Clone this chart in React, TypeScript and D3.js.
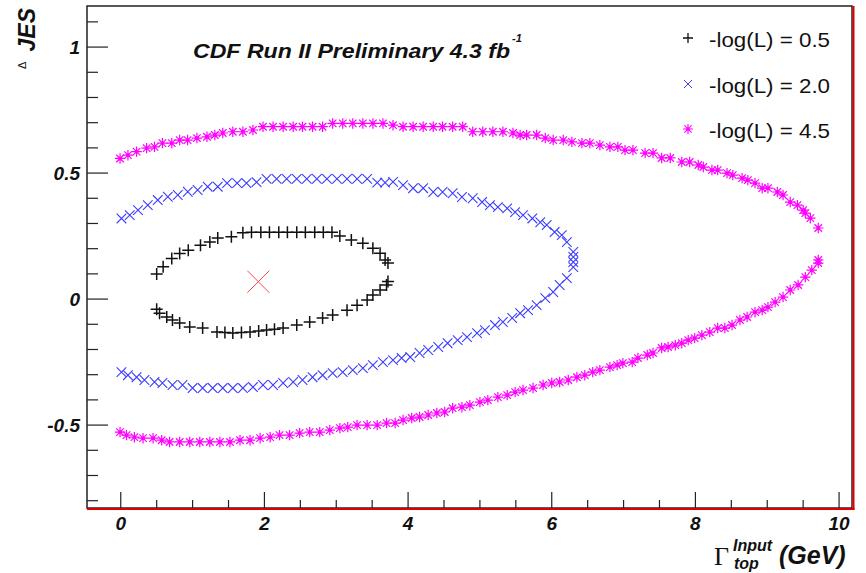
import React from 'react';
import * as d3 from 'd3';

const W = 866;
const H = 573;

// Axis domains and ticks
const X_DOMAIN: [number, number] = [-0.47, 10.18];
const Y_DOMAIN: [number, number] = [-0.829, 1.163];
const xMajorTicks = [0, 2, 4, 6, 8, 10];
const yMajorTicks = [-0.5, 0, 0.5, 1];
const yTickLabels = ['-0.5', '0', '0.5', '1'];
const xTickLabels = ['0', '2', '4', '6', '8', '10'];

const titleText = 'CDF Run II Preliminary 4.3 fb';
const legendLabels = ['-log(L) = 0.5', '-log(L) = 2.0', '-log(L) = 4.5'];

// Best fit point
const bestFit: [number, number] = [1.915, 0.069];

// -log(L) = 0.5 contour (black +)
const contour05: [number, number][] = [
  [0.50, 0.10], [0.59, 0.128], [0.71, 0.161], [0.82, 0.181], [0.94, 0.194], [1.11, 0.214],
  [1.24, 0.227], [1.35, 0.242], [1.54, 0.247], [1.70, 0.263], [1.82, 0.265], [1.95, 0.265],
  [2.07, 0.265], [2.20, 0.265], [2.32, 0.265], [2.45, 0.265], [2.57, 0.265], [2.70, 0.265],
  [2.82, 0.265], [2.94, 0.265], [3.05, 0.25], [3.21, 0.234], [3.37, 0.222], [3.51, 0.202],
  [3.61, 0.182], [3.68, 0.155], [3.72, 0.143],
  [3.72, 0.07], [3.70, 0.056], [3.61, 0.036], [3.51, 0.016], [3.43, -0.004], [3.29, -0.024],
  [3.15, -0.044], [2.95, -0.063], [2.81, -0.075], [2.63, -0.091], [2.45, -0.103], [2.26, -0.115],
  [2.14, -0.12], [2.03, -0.123], [1.92, -0.127], [1.80, -0.131], [1.68, -0.133], [1.56, -0.135],
  [1.45, -0.133], [1.34, -0.131], [1.14, -0.115], [0.96, -0.111], [0.82, -0.095], [0.72, -0.083],
  [0.64, -0.071], [0.54, -0.056], [0.50, -0.04],
];

// -log(L) = 2.0 contour (blue x)
const contour20: [number, number][] = [
  [0.01, 0.32], [0.125, 0.333], [0.24, 0.353], [0.376, 0.373], [0.515, 0.393], [0.655, 0.406],
  [0.794, 0.413], [0.933, 0.426], [1.07, 0.433], [1.21, 0.446], [1.35, 0.446], [1.48, 0.46],
  [1.62, 0.46], [1.75, 0.46], [1.89, 0.464], [2.03, 0.477], [2.17, 0.477], [2.31, 0.477],
  [2.45, 0.477], [2.59, 0.477], [2.73, 0.477], [2.87, 0.477], [3.01, 0.477], [3.15, 0.477],
  [3.29, 0.477], [3.43, 0.477], [3.57, 0.462], [3.68, 0.462], [3.79, 0.465], [3.93, 0.452],
  [4.07, 0.44], [4.21, 0.44], [4.35, 0.425], [4.48, 0.425], [4.62, 0.42], [4.75, 0.405],
  [4.90, 0.40], [5.03, 0.385], [5.14, 0.373], [5.25, 0.365], [5.38, 0.36], [5.49, 0.345],
  [5.60, 0.333], [5.73, 0.32], [5.84, 0.305], [5.93, 0.294], [6.04, 0.266], [6.14, 0.254],
  [6.21, 0.226], [6.30, 0.187], [6.30, 0.167], [6.30, 0.147], [6.30, 0.127],
  [6.21, 0.083], [6.11, 0.056], [6.02, 0.028], [5.91, 0.004], [5.79, -0.024], [5.67, -0.044],
  [5.56, -0.056], [5.45, -0.075], [5.32, -0.091], [5.21, -0.103], [5.07, -0.123], [4.96, -0.135],
  [4.82, -0.151], [4.69, -0.163], [4.55, -0.175], [4.42, -0.19], [4.28, -0.202], [4.16, -0.214],
  [4.03, -0.23], [3.91, -0.234], [3.79, -0.242], [3.65, -0.25], [3.51, -0.262], [3.37, -0.274],
  [3.23, -0.282], [3.09, -0.29], [2.95, -0.294], [2.81, -0.302], [2.67, -0.31], [2.53, -0.321],
  [2.40, -0.329], [2.26, -0.333], [2.12, -0.341], [1.98, -0.341], [1.84, -0.349], [1.70, -0.353],
  [1.56, -0.353], [1.42, -0.353], [1.28, -0.353], [1.14, -0.353], [1.00, -0.353], [0.86, -0.341],
  [0.72, -0.341], [0.58, -0.333], [0.47, -0.329], [0.33, -0.321], [0.22, -0.31], [0.10, -0.302],
  [0.01, -0.29],
];

// -log(L) = 4.5 contour (magenta *)
const contour45: [number, number][] = [
  [-0.01, 0.558], [0.10, 0.571], [0.22, 0.585], [0.36, 0.599], [0.47, 0.604], [0.58, 0.619],
  [0.71, 0.619], [0.82, 0.631], [0.93, 0.631], [1.06, 0.639], [1.20, 0.644], [1.31, 0.651],
  [1.42, 0.659], [1.56, 0.664], [1.70, 0.664], [1.84, 0.671], [1.98, 0.684], [2.12, 0.684],
  [2.26, 0.684], [2.40, 0.684], [2.53, 0.684], [2.67, 0.684], [2.81, 0.684], [2.95, 0.697],
  [3.09, 0.697], [3.23, 0.697], [3.37, 0.697], [3.51, 0.697], [3.65, 0.697], [3.79, 0.69],
  [3.93, 0.684], [4.07, 0.684], [4.21, 0.684], [4.35, 0.684], [4.48, 0.684], [4.62, 0.684],
  [4.76, 0.684], [4.90, 0.664], [5.04, 0.664], [5.18, 0.664], [5.32, 0.664], [5.46, 0.659],
  [5.56, 0.651], [5.65, 0.651], [5.79, 0.651], [5.91, 0.639], [6.02, 0.631], [6.16, 0.631],
  [6.28, 0.624], [6.42, 0.619], [6.53, 0.619], [6.67, 0.611], [6.81, 0.604], [6.92, 0.604],
  [7.02, 0.591], [7.13, 0.591], [7.30, 0.579], [7.41, 0.579], [7.53, 0.56], [7.65, 0.56],
  [7.81, 0.544], [7.92, 0.544], [8.04, 0.532], [8.11, 0.524], [8.23, 0.512], [8.31, 0.512],
  [8.44, 0.50], [8.52, 0.492], [8.65, 0.48], [8.73, 0.472], [8.83, 0.46], [8.93, 0.44],
  [9.01, 0.44], [9.14, 0.425], [9.22, 0.413], [9.32, 0.385], [9.42, 0.373], [9.50, 0.353],
  [9.53, 0.341], [9.60, 0.321], [9.71, 0.282],
  [9.71, 0.155], [9.71, 0.143], [9.62, 0.115], [9.53, 0.087], [9.43, 0.056], [9.32, 0.036],
  [9.22, 0.008], [9.11, -0.012], [9.01, -0.032], [8.93, -0.044], [8.83, -0.052], [8.72, -0.071],
  [8.62, -0.083], [8.51, -0.103], [8.41, -0.115], [8.31, -0.115], [8.20, -0.131], [8.09, -0.143],
  [7.99, -0.155], [7.90, -0.163], [7.81, -0.175], [7.72, -0.183], [7.62, -0.19], [7.53, -0.194],
  [7.41, -0.214], [7.33, -0.222], [7.20, -0.234], [7.12, -0.25], [6.99, -0.254], [6.91, -0.262],
  [6.81, -0.27], [6.67, -0.282], [6.57, -0.29], [6.46, -0.302], [6.35, -0.31], [6.23, -0.321],
  [6.11, -0.329], [6.00, -0.333], [5.88, -0.341], [5.74, -0.353], [5.60, -0.361], [5.49, -0.369],
  [5.38, -0.381], [5.25, -0.389], [5.11, -0.401], [5.00, -0.409], [4.86, -0.421], [4.75, -0.429],
  [4.62, -0.433], [4.51, -0.448], [4.40, -0.452], [4.28, -0.46], [4.16, -0.468], [4.05, -0.472],
  [3.93, -0.48], [3.82, -0.492], [3.70, -0.492], [3.57, -0.50], [3.43, -0.50], [3.29, -0.50],
  [3.16, -0.508], [3.05, -0.512], [2.91, -0.52], [2.77, -0.528], [2.63, -0.528], [2.49, -0.532],
  [2.35, -0.54], [2.21, -0.54], [2.08, -0.548], [1.94, -0.552], [1.80, -0.56], [1.66, -0.56],
  [1.52, -0.567], [1.38, -0.567], [1.24, -0.567], [1.10, -0.567], [0.96, -0.567], [0.82, -0.567],
  [0.68, -0.567], [0.57, -0.56], [0.45, -0.552], [0.31, -0.552], [0.19, -0.548], [0.08, -0.54],
  [-0.01, -0.528],
];

const FRAME = { left: 87, right: 852, top: 6, bottom: 508 };
const SANS = '"Liberation Sans", Arial, Helvetica, sans-serif';
const SERIF = '"Liberation Serif", "DejaVu Serif", serif';
const BLUE = '#3c3cff';
const MAGENTA = '#ff00ff';

function plusPath(x: number, y: number, s: number) {
  return `M${x - s},${y}H${x + s}M${x},${y - s}V${y + s}`;
}
function crossPath(x: number, y: number, s: number) {
  return `M${x - s},${y - s}L${x + s},${y + s}M${x - s},${y + s}L${x + s},${y - s}`;
}
function starPath(x: number, y: number, s: number) {
  const d = s * 0.72;
  return plusPath(x, y, s) + crossPath(x, y, d);
}

export default function App() {
  const xScale = d3.scaleLinear().domain(X_DOMAIN).range([FRAME.left, FRAME.right]);
  const yScale = d3.scaleLinear().domain(Y_DOMAIN).range([FRAME.bottom, FRAME.top]);

  const xMinor = d3.range(0, 10.01, 0.5).filter((v) => !xMajorTicks.includes(v));
  const yMinor = d3.range(-8, 12, 1).map((v) => v / 10).filter((v) => !yMajorTicks.some((m) => Math.abs(m - v) < 1e-6));

  const legendRows = [
    { label: legendLabels[0], kind: 'plus' },
    { label: legendLabels[1], kind: 'cross' },
    { label: legendLabels[2], kind: 'star' },
  ];
  const legendY = [38, 84, 129];

  return (
    <svg width={W} height={H} style={{ position: 'absolute', left: 0, top: 0, background: '#fff' }}>
      <rect x={0} y={0} width={W} height={H} fill="#fff" />
      {/* contours */}
      <g>
        {contour45.map(([x, y], i) => (
          <g key={'m' + i}>
            <path d={starPath(xScale(x), yScale(y), 5.2)} stroke={MAGENTA} strokeWidth={1.2} fill="none" />
            <circle cx={xScale(x)} cy={yScale(y)} r={1.7} fill={MAGENTA} />
          </g>
        ))}
        {contour20.map(([x, y], i) => (
          <path key={'b' + i} d={crossPath(xScale(x), yScale(y), 4.8)} stroke={BLUE} strokeWidth={1.1} fill="none" />
        ))}
        {contour05.map(([x, y], i) => (
          <path key={'k' + i} d={plusPath(xScale(x), yScale(y), 6)} stroke="#111" strokeWidth={1.5} fill="none" />
        ))}
        <path d={crossPath(xScale(bestFit[0]), yScale(bestFit[1]), 11)} stroke="#ff4a4a" strokeWidth={1} fill="none" />
      </g>

      {/* frame */}
      <rect x={FRAME.left} y={FRAME.top} width={FRAME.right - FRAME.left} height={FRAME.bottom - FRAME.top}
        fill="none" stroke="#222" strokeWidth={1.5} />
      <line x1={FRAME.left} x2={FRAME.right + 2.5} y1={FRAME.bottom + 1} y2={FRAME.bottom + 1} stroke="#e00000" strokeWidth={2} />
      <line x1={FRAME.right + 1.5} x2={FRAME.right + 1.5} y1={FRAME.top} y2={FRAME.bottom + 2} stroke="#e00000" strokeWidth={2} />

      {/* x ticks */}
      {xMajorTicks.map((v) => (
        <line key={'xM' + v} x1={xScale(v)} x2={xScale(v)} y1={FRAME.bottom} y2={FRAME.bottom - 16} stroke="#222" strokeWidth={1.2} />
      ))}
      {xMinor.map((v) => (
        <line key={'xm' + v} x1={xScale(v)} x2={xScale(v)} y1={FRAME.bottom} y2={FRAME.bottom - 8} stroke="#222" strokeWidth={1.2} />
      ))}
      {xMajorTicks.map((v, i) => (
        <text key={'xl' + v} x={xScale(v)} y={530} textAnchor="middle" fontFamily={SANS} fontWeight="bold"
          fontStyle="italic" fontSize={19} fill="#111">{xTickLabels[i]}</text>
      ))}

      {/* y ticks */}
      {yMajorTicks.map((v) => (
        <line key={'yM' + v} x1={FRAME.left} x2={FRAME.left + 21} y1={yScale(v)} y2={yScale(v)} stroke="#222" strokeWidth={1.2} />
      ))}
      {yMinor.map((v) => (
        <line key={'ym' + v} x1={FRAME.left} x2={FRAME.left + 11} y1={yScale(v)} y2={yScale(v)} stroke="#222" strokeWidth={1.2} />
      ))}
      {yMajorTicks.map((v, i) => (
        <text key={'yl' + v} x={80} y={yScale(v) + 6.5} textAnchor="end" fontFamily={SANS} fontWeight="bold"
          fontStyle="italic" fontSize={19} fill="#111">{yTickLabels[i]}</text>
      ))}

      {/* y axis label */}
      <text transform="translate(35,8) rotate(-90)" textAnchor="end" fontFamily={SANS} fontWeight="bold"
        fontStyle="italic" fontSize={23} fill="#111">JES</text>
      <text transform="translate(26,69) rotate(-90)" textAnchor="start" fontFamily={SANS} fontSize={11} fill="#111">Δ</text>

      {/* x axis label */}
      <text x={714} y={565} fontFamily={SERIF} fontSize={26} fill="#111">Γ</text>
      <text x={733} y={551} fontFamily={SANS} fontWeight="bold" fontStyle="italic" fontSize={16} fill="#111">Input</text>
      <text x={734} y={569} fontFamily={SANS} fontWeight="bold" fontStyle="italic" fontSize={16} fill="#111">top</text>
      <text x={779} y={564} fontFamily={SANS} fontWeight="bold" fontStyle="italic" fontSize={25} fill="#111">(GeV)</text>

      {/* title */}
      <text x={193} y={58} fontFamily={SANS} fontWeight="bold" fontStyle="italic" fontSize={21}
        textLength={317} lengthAdjust="spacingAndGlyphs" fill="#111">{titleText}</text>
      <text x={512} y={42} fontFamily={SANS} fontWeight="bold" fontStyle="italic" fontSize={11} fill="#111">-1</text>

      {/* legend */}
      {legendRows.map((r, i) => (
        <g key={'lg' + i}>
          {r.kind === 'plus' && <path d={plusPath(688, legendY[i], 5)} stroke="#111" strokeWidth={1.3} fill="none" />}
          {r.kind === 'cross' && <path d={crossPath(688, legendY[i], 4)} stroke={BLUE} strokeWidth={1} fill="none" />}
          {r.kind === 'star' && (
            <g>
              <path d={starPath(688, legendY[i], 5)} stroke={MAGENTA} strokeWidth={1.1} fill="none" />
              <circle cx={688} cy={legendY[i]} r={1.5} fill={MAGENTA} />
            </g>
          )}
          <text x={709} y={legendY[i] + 9} fontFamily={SANS} fontSize={21} textLength={121}
            lengthAdjust="spacingAndGlyphs" fill="#111">{r.label}</text>
        </g>
      ))}
    </svg>
  );
}
